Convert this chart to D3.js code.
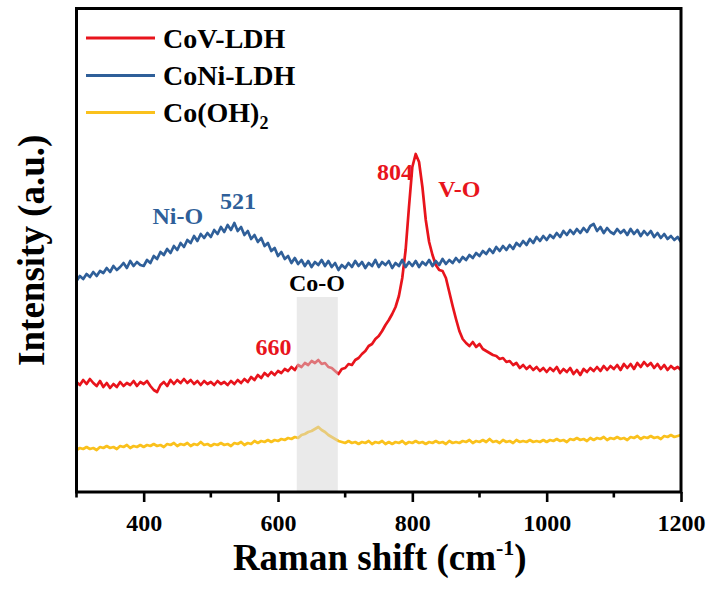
<!DOCTYPE html>
<html><head><meta charset="utf-8">
<script src="https://cdn.jsdelivr.net/npm/d3@7"></script>
<style>body{margin:0;background:#fff}svg{display:block}
svg text{font-family:"Liberation Serif","Times New Roman",serif;font-weight:bold}</style>
</head><body>
<svg id="chart" width="718" height="589"></svg>
<script>
// Raman shift sampling grid (cm-1)
const ramanShift = d3.range(300, 1201, 5);
const xTicks = [400, 600, 800, 1000, 1200];
const xMinorTicks = [300, 500, 700, 900, 1100];
const seriesNames = ["CoV-LDH", "CoNi-LDH", "Co(OH)2"];

// Intensities (a.u., offset stacked), 300..1200 step 5
const coV = [
110,107,112,108,113,109,106,111,105,109,104,108,105,110,106,109,107,111,106,110,
108,111,106,102,100,107,110,106,112,108,112,109,113,109,112,108,111,107,111,108,
110,107,111,108,110,107,111,108,112,109,113,110,115,112,117,114,119,116,120,117,
121,119,123,121,125,122,127,125,129,127,131,129,132,128,129,125,124,121,118,123,
124,128,127,132,134,138,141,146,148,153,156,161,167,172,178,185,196,214,242,285,
325,338,330,305,272,250,237,227,222,221,214,200,186,173,161,153,149,146,150,145,
148,143,141,139,137,136,133,134,130,131,127,129,124,127,123,126,122,125,121,124,
120,124,121,125,119,123,120,124,118,122,117,123,120,124,121,125,121,126,122,126,
123,127,122,128,124,128,123,129,125,130,126,129,124,128,123,127,122,126,123,125,122];
const coNi = [
211,216,213,218,215,220,216,221,219,224,220,226,222,225,229,224,231,226,230,227,
226,232,229,236,233,240,237,243,239,246,242,249,245,252,249,256,251,258,254,259,
255,262,258,265,260,267,262,269,261,265,257,261,253,257,250,254,246,249,241,244,
236,240,233,236,229,234,228,232,226,231,225,230,227,232,226,231,225,229,222,227,
224,229,225,231,226,230,224,229,226,232,225,230,227,231,224,229,226,232,225,230,
226,231,225,230,227,232,226,231,227,233,228,232,229,234,230,235,232,237,234,239,
236,241,238,243,239,245,241,246,242,247,243,249,246,251,247,253,249,255,251,256,
252,257,254,259,255,261,257,262,258,263,259,264,260,266,268,261,265,259,264,260,
258,263,259,262,257,263,258,262,256,261,257,261,255,259,254,258,253,256,252,255,250];
const coOH2 = [
42,44,43,45,43,44,42,45,44,46,44,45,43,46,45,47,44,46,45,47,
45,47,46,48,46,47,45,48,47,49,46,48,47,49,46,48,47,50,47,48,
46,48,47,49,47,48,46,49,48,50,47,49,48,51,49,51,50,52,50,52,
51,53,52,54,53,55,54,57,58,60,61,63,65,62,60,57,55,53,51,50,
49,51,49,50,48,50,49,51,48,50,49,51,48,50,48,50,49,51,48,50,
49,51,49,50,48,50,49,51,49,50,48,51,49,50,49,51,50,52,49,51,
50,52,50,53,50,51,49,52,50,51,49,52,50,51,50,52,50,51,50,52,
50,52,51,53,51,52,50,53,52,54,52,53,51,54,52,54,53,55,52,54,
53,55,53,54,52,55,54,56,53,55,54,56,54,55,53,56,55,57,55,56,57];

const colors = ["#e8141c", "#2f5f99", "#fac11c"];
const seriesData = [coV, coNi, coOH2];

const svg = d3.select("#chart");
const L = 76.5, R = 681, T = 8.5, B = 492;
const x = d3.scaleLinear().domain([300, 1200]).range([L, R]);
const y = d3.scaleLinear().domain([0, 483.5]).range([B, T]);

const line = d3.line().x((d, i) => x(ramanShift[i])).y(d => y(d));

// curves
seriesData.forEach((s, k) => {
  svg.append("path").datum(s).attr("d", line)
    .attr("fill", "none").attr("stroke", colors[k])
    .attr("stroke-width", 2.7).attr("stroke-linejoin", "round");
});

// shaded Co-O band (drawn above curves, translucent)
svg.append("rect")
  .attr("x", x(628)).attr("width", x(689) - x(628))
  .attr("y", 297).attr("height", B - 297)
  .attr("fill", "#d6d6d6").attr("opacity", 0.5);

// frame
svg.append("rect").attr("x", L).attr("y", T).attr("width", R - L).attr("height", B - T)
  .attr("fill", "none").attr("stroke", "#000").attr("stroke-width", 3);

// bottom axis
const xAxis = d3.axisBottom(x).tickValues(xTicks).tickFormat(d3.format("d"))
  .tickSize(10).tickSizeOuter(0).tickPadding(12);
const gx = svg.append("g").attr("transform", `translate(0,${B})`).call(xAxis);
gx.attr("font-family", null).attr("font-size", null);
gx.select(".domain").remove();
gx.selectAll(".tick line").attr("stroke", "#000").attr("stroke-width", 2.6);
gx.selectAll(".tick text").style("font-size", "24px").attr("fill", "#000").attr("dy", "0.71em");
const gm = svg.append("g").attr("transform", `translate(0,${B})`);
gm.selectAll("line").data(xMinorTicks).join("line")
  .attr("x1", d => x(d)).attr("x2", d => x(d)).attr("y1", 0).attr("y2", 5.5)
  .attr("stroke", "#000").attr("stroke-width", 2.6);

// axis titles
const xt = svg.append("text").attr("x", (L + R) / 2 + 1).attr("y", 570)
  .attr("text-anchor", "middle").style("font-size", "37px").attr("fill", "#000");
xt.append("tspan").text("Raman shift (cm");
xt.append("tspan").text("-1").style("font-size", "22px").attr("dy", -15);
xt.append("tspan").text(")").attr("dy", 15);

svg.append("text").attr("transform", `translate(44,${(T + B) / 2}) rotate(-90)`)
  .attr("text-anchor", "middle").style("font-size", "37px").attr("fill", "#000")
  .text("Intensity (a.u.)");

// legend
const legY = [38, 75.5, 112.5];
seriesNames.forEach((n, k) => {
  svg.append("line").attr("x1", 86).attr("x2", 155).attr("y1", legY[k]).attr("y2", legY[k])
    .attr("stroke", colors[k]).attr("stroke-width", 3);
  const t = svg.append("text").attr("x", 163).attr("y", legY[k] + 9.5)
    .style("font-size", "28px").attr("fill", "#000");
  if (n === "Co(OH)2") {
    t.append("tspan").text("Co(OH)");
    t.append("tspan").text("2").style("font-size", "18px").attr("dy", 7);
  } else t.text(n);
});

// annotations
function note(txt, px, py, col, anchor) {
  svg.append("text").attr("x", px).attr("y", py).attr("text-anchor", anchor || "start")
    .style("font-size", "24px").attr("fill", col).text(txt);
}
note("Ni-O", x(413), 224, colors[1]);
note("521", x(521) - 5, 209, colors[1]);
note("804", x(804) - 2, 180, colors[0], "end");
note("V-O", x(840) - 1, 197, colors[0]);
note("660", x(620), 355, colors[0], "end");
note("Co-O", x(658), 291, "#000", "middle");
</script>
</body></html>
